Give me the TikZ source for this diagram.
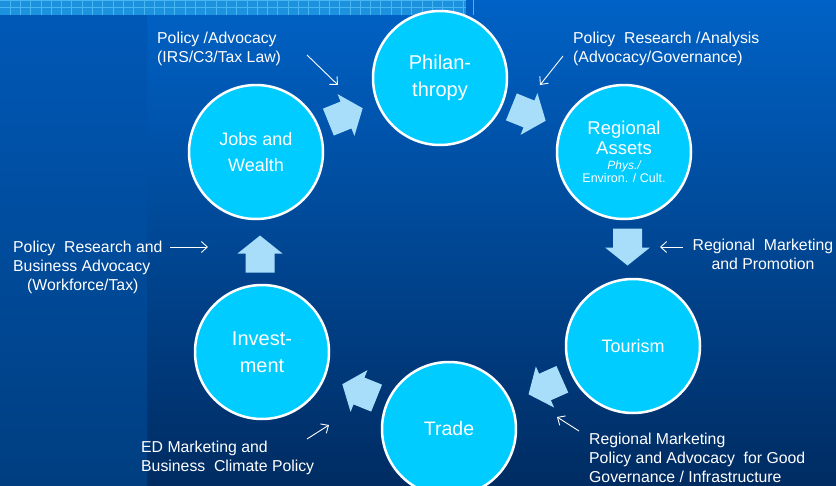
\documentclass[tikz,border=0pt]{standalone}
\usepackage{fontspec}
\setmainfont{Liberation Sans}
\usetikzlibrary{arrows.meta}
\definecolor{bgtop}{HTML}{0062C6}
\definecolor{bgbot}{HTML}{002C62}
\definecolor{paneltop}{HTML}{0059B8}
\definecolor{panelbot}{HTML}{003E80}
\definecolor{stripfill}{HTML}{1C92DE}
\definecolor{stripline}{HTML}{48B6F2}
\definecolor{hubfill}{HTML}{00CCFF}
\definecolor{arrowfill}{HTML}{A8DEFA}
\definecolor{hubshadow}{HTML}{7FA8C0}
\tikzset{
  hub/.style={circle, minimum size=134pt, inner sep=0pt, fill=hubfill, draw=white,
    line width=2.5pt, text=white, align=center, font=\fontsize{19}{26}\selectfont},
  lbl/.style={text=white, inner sep=0pt, font=\fontsize{15.8}{19}\selectfont},
  thinarrow/.style={draw=white, line width=0.9pt, -{Straight Barb[length=6pt,width=11pt]}},
  blk/.style={fill=arrowfill, draw=none},
}
\newcommand{\blockarrow}[4]{%
  \begin{scope}[shift={(#2,#3)}, rotate=#4]
    \fill[blk] (-19,-14.5) -- (0,-14.5) -- (0,-22.5) -- (18,0) -- (0,22.5) -- (0,14.5) -- (-19,14.5) -- cycle;
    \coordinate (#1) at (0,0);
  \end{scope}}
\begin{document}
\begin{tikzpicture}[x=1pt, y=-1pt]
\useasboundingbox (0,0) rectangle (836,485);
\clip (0,0) rectangle (836,485);
% background
\shade[top color=bgtop, bottom color=bgbot] (147,0) rectangle (836,485);
\shade[top color=paneltop, bottom color=panelbot] (0,0) rectangle (147,485);
% top strip
\fill[stripfill] (0,0) rectangle (466,15);
\foreach \i in {0,...,45} {
  \draw[stripline, line width=0.8pt] ({10+10.3*\i},0) -- ({10+10.3*\i},15);
}
\draw[stripline, line width=0.8pt] (0,0.8) -- (466,0.8);
\draw[stripline, line width=0.8pt] (0,7.8) -- (466,7.8);
% hubs
\node[hub, font=\fontsize{20}{27}\selectfont] (phil) at (440,78) {Philan-\\thropy};
\node[hub, font=\fontsize{18}{26}\selectfont] (jobs) at (256,152) {Jobs and\\Wealth};
\node[hub, font=\fontsize{18.5}{20}\selectfont] (assets) at (624,152)
  {Regional\\Assets\\[-5pt]{\fontsize{12}{13}\selectfont\itshape Phys./}\\[-7pt]{\fontsize{12.5}{13}\selectfont Environ. / Cult.}};
\node[hub, font=\fontsize{18}{26}\selectfont] (tour) at (633,346) {Tourism};
\node[hub, font=\fontsize{19.5}{26}\selectfont] (trade) at (449,429) {Trade};
\node[hub, font=\fontsize{20}{27}\selectfont] (inv) at (262,352) {Invest-\\ment};
% block arrows
\blockarrow{a1}{346}{115}{22}
\blockarrow{a2}{529}{114}{-22}
\blockarrow{a3}{627.5}{247.5}{-90}
\blockarrow{a4}{545}{387}{204}
\blockarrow{a5}{359}{391}{158}
\blockarrow{a6}{260}{253.5}{90}
% labels
\node[lbl, anchor=north west, align=left] (l1) at (157,32) {Policy /Advocacy\\(IRS/C3/Tax Law)};
\node[lbl, anchor=north west, align=left] (l2) at (573,32) {Policy\ \ Research /Analysis\\(Advocacy/Governance)};
\node[lbl, anchor=north, align=center] (l3) at (763,239) {Regional\ \ Marketing\\and Promotion};
\node[lbl, anchor=north west, align=left] (l4) at (13,241) {Policy\ \ Research and\\Business Advocacy\\\hspace*{14pt}(Workforce/Tax)};
\node[lbl, anchor=north west, align=left] (l5) at (141,441) {ED Marketing and\\Business\ \ Climate Policy};
\node[lbl, anchor=north west, align=left] (l6) at (589,433) {Regional Marketing\\Policy and Advocacy\ \ for Good\\Governance / Infrastructure};
% thin arrows
\coordinate (s1) at (307,55);  \coordinate (e1) at (338,85);
\coordinate (s2) at (563,56);  \coordinate (e2) at (540,85);
\coordinate (s3) at (683,247); \coordinate (e3) at (660,247);
\coordinate (s4) at (170,247); \coordinate (e4) at (208,247);
\coordinate (s5) at (307,439); \coordinate (e5) at (329,425);
\coordinate (s6) at (579,431); \coordinate (e6) at (557,417);
\foreach \k in {1,...,6} { \draw[thinarrow] (s\k) -- (e\k); }
\end{tikzpicture}
\end{document}
